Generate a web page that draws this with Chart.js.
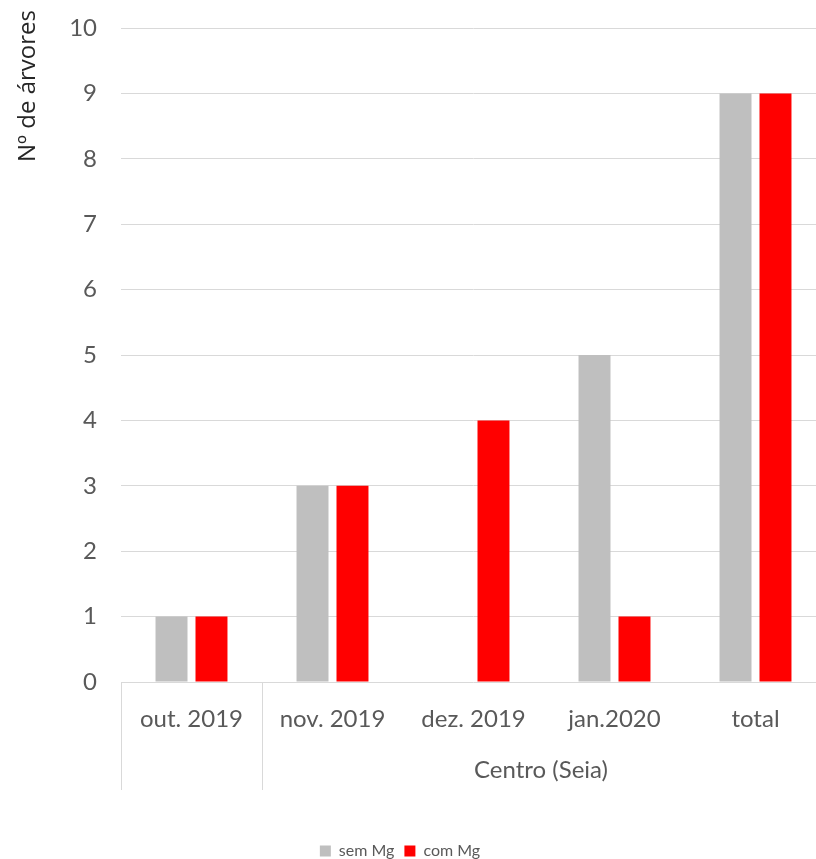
<!DOCTYPE html>
<html lang="pt">
<head>
  <meta charset="UTF-8" />
  <title>Nº de árvores - Centro (Seia)</title>
  <script src="https://cdn.jsdelivr.net/npm/chart.js"></script>
  <style>
    html, body { margin: 0; padding: 0; background: #fff; overflow: hidden; }
    /* the original is cropped a little on the right */
    #wrap { width: 826px; height: 859px; }
  </style>
</head>
<body>
  <div id="wrap"><canvas id="chart"></canvas></div>

  <script>
    const months = ["out. 2019", "nov. 2019", "dez. 2019", "jan.2020", "total"];
    const groupLabel = "Centro (Seia)";
    const yTitle = "Nº de árvores";
    const semMg = [1, 3, 0, 5, 9];
    const comMg = [1, 3, 4, 1, 9];
    const seriesNames = ["sem Mg", "com Mg"];

    const FONT = "Lato, 'Open Sans', sans-serif";

    // Excel-style multi-level axis: separators + group label, and the y title up top
    const extras = {
      id: "extras",
      afterLayout(chart) {
        // legend sits a little left of centre in the original
        chart.legend.left -= 13;
        chart.legend.right -= 13;
      },
      afterDraw(chart) {
        const ctx = chart.ctx;
        const x = chart.scales.x;
        const top = chart.chartArea.bottom;
        const sep = (x.getPixelForValue(0) + x.getPixelForValue(1)) / 2;
        ctx.save();
        ctx.strokeStyle = "#d9d9d9";
        ctx.lineWidth = 1;
        [x.left + 0.5, Math.round(sep) + 0.5].forEach(px => {
          ctx.beginPath();
          ctx.moveTo(px, top);
          ctx.lineTo(px, 790);
          ctx.stroke();
        });
        ctx.fillStyle = "#595959";
        ctx.font = "24px " + FONT;
        ctx.textAlign = "center";
        ctx.textBaseline = "middle";
        ctx.fillText(groupLabel, (sep + x.right) / 2 - 3, 770);

        ctx.translate(28, 10);
        ctx.rotate(-Math.PI / 2);
        ctx.fillStyle = "#262626";
        ctx.font = "24px 'Open Sans', sans-serif";
        ctx.textAlign = "right";
        ctx.fillText(yTitle, 0, 0);
        ctx.restore();
      }
    };

    new Chart(document.getElementById("chart"), {
      type: "bar",
      data: {
        labels: months,
        datasets: [
          { label: seriesNames[0], data: semMg, backgroundColor: "#bfbfbf" },
          { label: seriesNames[1], data: comMg, backgroundColor: "#ff0000" }
        ]
      },
      options: {
        responsive: true,
        maintainAspectRatio: false,
        animation: false,
        datasets: { bar: { categoryPercentage: 0.567, barPercentage: 0.8 } },
        layout: { padding: { top: 28, left: 0, right: 0, bottom: -10 } },
        plugins: {
          tooltip: { enabled: false },
          legend: {
            position: "bottom",
            labels: {
              boxWidth: 11, boxHeight: 11, padding: 10,
              color: "#595959",
              font: { family: FONT, size: 16 }
            }
          }
        },
        scales: {
          x: {
            grid: { display: false },
            border: { display: false },
            ticks: {
              color: "#595959",
              padding: 15,
              maxRotation: 0,
              font: { family: FONT, size: 24 }
            },
            afterFit(s) { s.height = 151; }
          },
          y: {
            min: 0, max: 10,
            grid: { color: "#d9d9d9", drawTicks: true, tickLength: 24, tickColor: "rgba(0,0,0,0)" },
            border: { display: false },
            ticks: {
              stepSize: 1,
              color: "#595959",
              padding: 0,
              font: { family: FONT, size: 24 }
            },
            afterFit(s) { s.width = 121; }
          }
        }
      },
      plugins: [extras]
    });
  </script>
</body>
</html>
